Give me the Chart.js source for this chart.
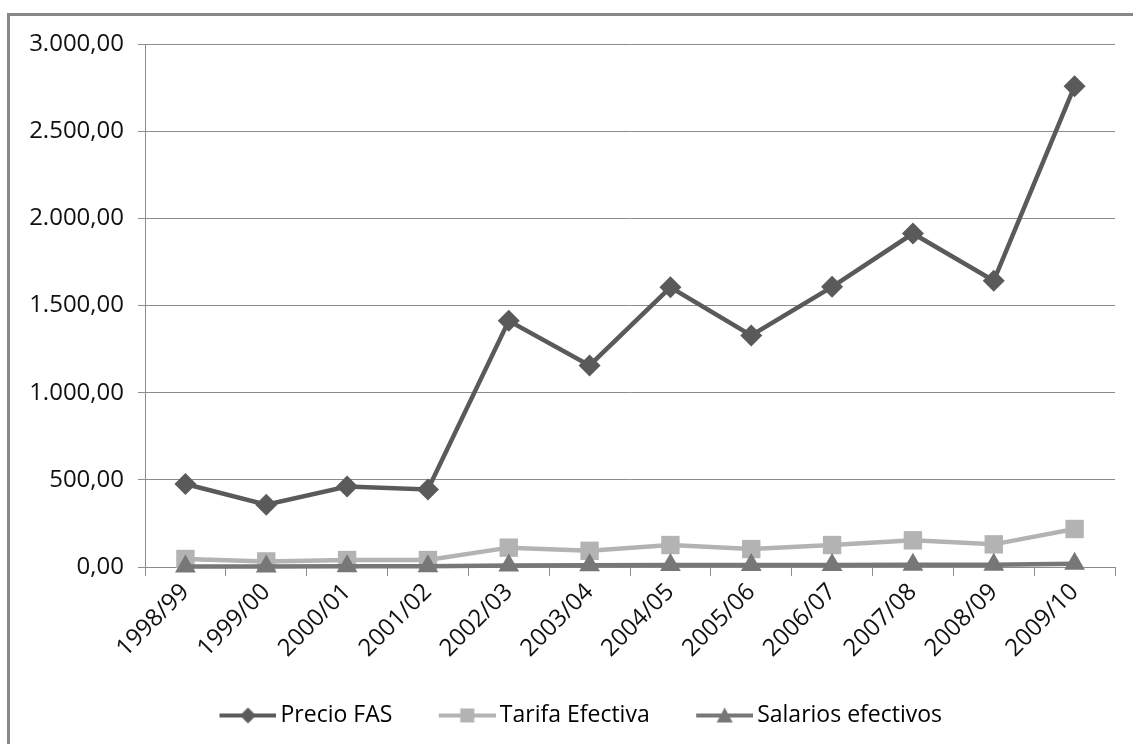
<!DOCTYPE html>
<html lang="es">
<head>
<meta charset="utf-8">
<title>Precio FAS, Tarifa y Salarios</title>
<script src="https://cdn.jsdelivr.net/npm/chart.js@4.4.1/dist/chart.umd.min.js"></script>
<style>
  html, body { margin: 0; padding: 0; background: #fff; }
  #wrap { position: relative; width: 1133px; height: 744px; overflow: hidden; }
  #frame {
    position: absolute; left: 7px; top: 13px; right: -10px; bottom: -10px;
    border-top: 3px solid #888; border-left: 3px solid #888;
    pointer-events: none;
  }
</style>
</head>
<body>
<div id="wrap">
  <canvas id="grafico" width="1133" height="744"></canvas>
  <div id="frame"></div>
</div>
<script>
// campañas
const campanas = ['1998/99', '1999/00', '2000/01', '2001/02', '2002/03', '2003/04',
                  '2004/05', '2005/06', '2006/07', '2007/08', '2008/09', '2009/10'];

// series
const precioFAS = [476, 357, 462, 445, 1412, 1156, 1604, 1328, 1607, 1913, 1642, 2758];
const tarifaEfectiva = [46, 32, 40, 40, 111, 93, 126, 103, 126, 153, 130, 218];
const salariosEfectivos = [3, 3, 4, 4, 9, 10, 11, 11, 12, 13, 13, 18];

// eje Y
const yMin = 0;
const yMax = 3000;
const yPaso = 500;

const COLOR_FAS = '#5a5a5a';
const COLOR_TARIFA = '#b3b3b3';
const COLOR_SALARIOS = '#777777';
const COLOR_EJE = '#8c8c8c';
const FUENTE = "'Open Sans', 'Noto Sans', sans-serif";

Chart.defaults.font.family = FUENTE;
Chart.defaults.color = '#111';

// formato 1.000,00
function formatoES(v) {
  const partes = v.toFixed(2).split('.');
  const entero = partes[0].replace(/\B(?=(\d{3})+(?!\d))/g, '.');
  return entero + ',' + partes[1];
}

// icono de leyenda: línea con el marcador en el medio
// (la parte izquierda del lienzo queda vacía y hace de separación entre elementos)
function iconoLeyenda(color, forma) {
  const c = document.createElement('canvas');
  c.width = 101;
  c.height = 20;
  const ctx = c.getContext('2d');
  const cx = 72.5;
  ctx.strokeStyle = color;
  ctx.lineWidth = 4;
  ctx.beginPath();
  ctx.moveTo(44, 10);
  ctx.lineTo(101, 10);
  ctx.stroke();
  ctx.fillStyle = color;
  ctx.beginPath();
  if (forma === 'rombo') {
    ctx.moveTo(cx, 2); ctx.lineTo(cx + 8, 10); ctx.lineTo(cx, 18); ctx.lineTo(cx - 8, 10);
  } else if (forma === 'cuadrado') {
    ctx.rect(cx - 7, 3, 14, 14);
  } else {
    ctx.moveTo(cx, 2); ctx.lineTo(cx + 8, 17); ctx.lineTo(cx - 8, 17);
  }
  ctx.closePath();
  ctx.fill();
  return c;
}

const iconos = [
  iconoLeyenda(COLOR_FAS, 'rombo'),
  iconoLeyenda(COLOR_TARIFA, 'cuadrado'),
  iconoLeyenda(COLOR_SALARIOS, 'triangulo')
];

const ctx = document.getElementById('grafico').getContext('2d');
const grafico = new Chart(ctx, {
  type: 'line',
  data: {
    labels: campanas,
    datasets: [
      {
        label: 'Precio FAS',
        data: precioFAS,
        order: 0,
        borderColor: COLOR_FAS,
        backgroundColor: COLOR_FAS,
        borderWidth: 4.5,
        pointStyle: 'rectRot',
        pointRadius: 11,
        pointBorderWidth: 0,
        pointBackgroundColor: COLOR_FAS,
        tension: 0,
        clip: false
      },
      {
        label: 'Tarifa Efectiva',
        data: tarifaEfectiva,
        order: 2,
        borderColor: COLOR_TARIFA,
        backgroundColor: COLOR_TARIFA,
        borderWidth: 4.5,
        pointStyle: 'rect',
        pointRadius: 13,
        pointBorderWidth: 0,
        pointBackgroundColor: COLOR_TARIFA,
        tension: 0,
        clip: false
      },
      {
        // los triángulos van por encima de los cuadrados
        label: 'Salarios efectivos',
        data: salariosEfectivos,
        order: 1,
        borderColor: COLOR_SALARIOS,
        backgroundColor: COLOR_SALARIOS,
        borderWidth: 4.5,
        pointStyle: 'triangle',
        pointRadius: 12,
        pointBorderWidth: 0,
        pointBackgroundColor: COLOR_SALARIOS,
        tension: 0,
        clip: false
      }
    ]
  },
  options: {
    responsive: false,
    animation: false,
    devicePixelRatio: 1,
    layout: { padding: { left: 10, right: 18, top: 44, bottom: 7 } },
    plugins: {
      tooltip: { enabled: false },
      legend: {
        position: 'bottom',
        labels: {
          usePointStyle: true,
          pointStyleWidth: 86,
          padding: 10,
          color: '#111',
          font: { size: 23, family: FUENTE },
          generateLabels: (chart) => chart.data.datasets.map((ds, i) => ({
            text: ds.label,
            pointStyle: iconos[i],
            fillStyle: ds.borderColor,
            strokeStyle: ds.borderColor,
            lineWidth: 0,
            hidden: false,
            datasetIndex: i
          }))
        }
      }
    },
    scales: {
      x: {
        offset: true,
        grid: {
          offset: true,
          drawOnChartArea: false,
          drawTicks: true,
          tickLength: 9,
          color: COLOR_EJE
        },
        border: { color: COLOR_EJE, width: 1 },
        ticks: {
          autoSkip: false,
          maxRotation: 45,
          minRotation: 45,
          padding: 2,
          font: { size: 24 },
          color: '#111'
        },
        afterFit: (scale) => { scale.height = 127; }
      },
      y: {
        min: yMin,
        max: yMax,
        ticks: {
          stepSize: yPaso,
          padding: 14,
          font: { size: 24 },
          color: '#111',
          callback: (v) => formatoES(v)
        },
        grid: {
          color: COLOR_EJE,
          lineWidth: 1,
          tickLength: 7
        },
        border: { color: COLOR_EJE, width: 1 },
        afterFit: (scale) => { scale.width = 135; }
      }
    }
  }
});
</script>
</body>
</html>
